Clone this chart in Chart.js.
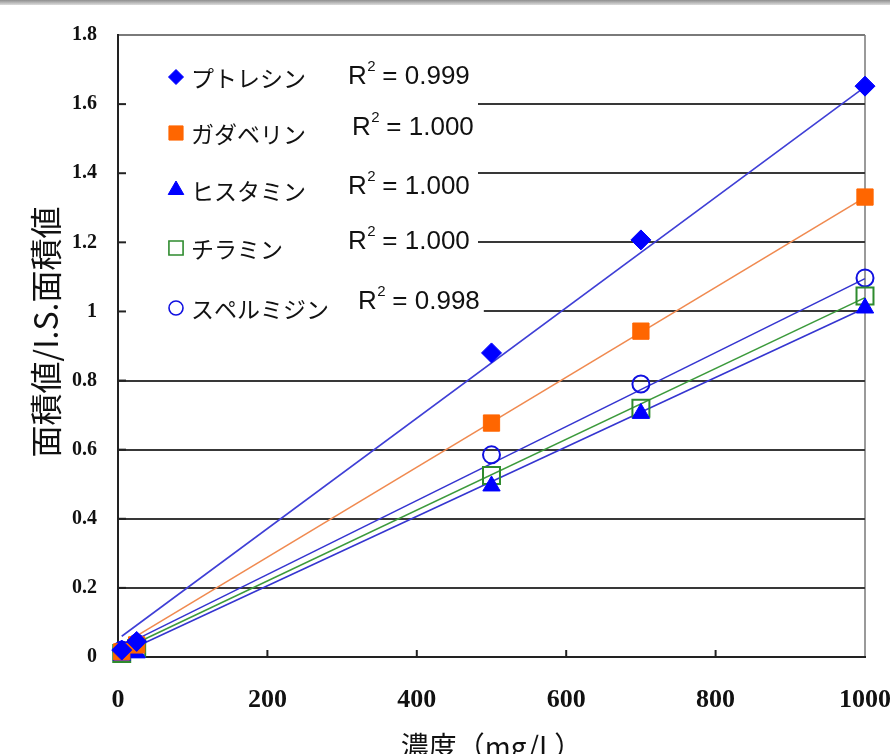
<!DOCTYPE html>
<html><head><meta charset="utf-8">
<script src="https://cdn.jsdelivr.net/npm/chart.js@4/dist/chart.umd.min.js"></script>
<style>
html,body{margin:0;padding:0;background:#fff;}
#wrap{position:relative;width:890px;height:754px;overflow:hidden;}
#bar{position:absolute;left:0;top:0;width:890px;height:5px;background:linear-gradient(#8f8f8f,#dcdcdc);}
canvas{position:absolute;left:0;top:0;}
</style></head><body>
<div id="wrap"><canvas id="c" width="890" height="754"></canvas><div id="bar"></div></div>
<script>
// ---- data ----
const concentrations = [5, 25, 500, 700, 1000];
const compounds = ['プトレシン', 'ガダベリン', 'ヒスタミン', 'チラミン', 'スペルミジン'];
const putrescine  = [0.02, 0.045, 0.88, 1.207, 1.652];
const cadaverine  = [0.015, 0.035, 0.677, 0.943, 1.331];
const histamine   = [0.005, 0.012, 0.495, 0.705, 1.01];
const tyramine    = [0.01, 0.025, 0.525, 0.72, 1.045];
const spermidine  = [0.02, 0.04, 0.585, 0.79, 1.097];
const trendX      = [5, 1000];
const trendStart  = [0.06, 0.035, 0.01, 0.02, 0.03];
const trendEnd    = [1.65, 1.33, 1.01, 1.04, 1.095];
const r2Values    = ['0.999', '1.000', '1.000', '1.000', '0.998'];
const xTickLabels = ['0', '200', '400', '600', '800', '1000'];
const yTickLabels = ['0', '0.2', '0.4', '0.6', '0.8', '1', '1.2', '1.4', '1.6', '1.8'];
const xTitle = '濃度（mg/L）';
const yTitle = '面積値/I.S.面積値';

const seriesValues = [putrescine, cadaverine, histamine, tyramine, spermidine];

// ---- styles ----
const markerStyle = [
  {pointStyle: 'rectRot', radius: 10, fill: '#0000FF', stroke: '#0000FF', bw: 1},
  {pointStyle: 'rect', radius: 11.5, fill: '#FF6600', stroke: '#FF6600', bw: 1},
  {pointStyle: 'triangle', radius: 10, fill: '#0000FF', stroke: '#0000FF', bw: 1},
  {pointStyle: 'rect', radius: 12, fill: 'rgba(255,255,255,0)', stroke: '#2E8B2E', bw: 2},
  {pointStyle: 'circle', radius: 8.5, fill: 'rgba(255,255,255,0)', stroke: '#1010E0', bw: 2}
];
const legendMarker = [
  {pointStyle: 'rectRot', radius: 7.5, fill: '#0000FF', stroke: '#0000FF', bw: 1},
  {pointStyle: 'rect', radius: 10, fill: '#FF6600', stroke: '#FF6600', bw: 1},
  {pointStyle: 'triangle', radius: 9, fill: '#0000FF', stroke: '#0000FF', bw: 1},
  {pointStyle: 'rect', radius: 10, fill: 'rgba(255,255,255,0)', stroke: '#2E8B2E', bw: 1.6},
  {pointStyle: 'circle', radius: 7, fill: 'rgba(255,255,255,0)', stroke: '#1010E0', bw: 1.6}
];
const lineColors = ['#3F3FD6', '#F08A50', '#3535D0', '#3C9A3C', '#3535D0'];

const datasets = [];
seriesValues.forEach((vals, i) => {
  const m = markerStyle[i];
  datasets.push({
    type: 'scatter', label: compounds[i],
    data: concentrations.map((x, k) => ({x: x, y: vals[k]})),
    pointStyle: m.pointStyle, pointRadius: m.radius, pointHoverRadius: m.radius,
    backgroundColor: m.fill, borderColor: m.stroke, pointBorderWidth: m.bw,
    showLine: false, clip: false
  });
});
seriesValues.forEach((vals, i) => {
  datasets.push({
    type: 'line', label: compounds[i] + ' trend',
    data: trendX.map((x, k) => ({x: x, y: k === 0 ? trendStart[i] : trendEnd[i]})),
    borderColor: lineColors[i], borderWidth: 1.6, pointRadius: 0, fill: false,
    tension: 0, clip: false
  });
});

const legendRowsY = [77, 133, 190, 248, 308];
const r2X = [348, 352, 348, 348, 358];
const r2Y = [77, 128, 187, 242, 302];

const overlayPlugin = {
  id: 'overlay',
  beforeDatasetsDraw(chart) {
    const ctx = chart.ctx;
    const a = chart.chartArea;
    const xs = chart.scales.x, ys = chart.scales.y;
    ctx.save();
    // legend box (white, hides grid lines)
    ctx.fillStyle = '#fff';
    ctx.fillRect(a.left + 1, 45, 478 - a.left - 1, 322 - 45);
    // inner tick marks
    ctx.strokeStyle = '#222';
    ctx.lineWidth = 2;
    for (let v = 1; v < yTickLabels.length - 1; v++) {
      const y = ys.getPixelForValue(parseFloat(yTickLabels[v]));
      ctx.beginPath(); ctx.moveTo(a.left, y); ctx.lineTo(a.left + 8, y); ctx.stroke();
    }
    for (let k = 1; k < xTickLabels.length - 1; k++) {
      const x = xs.getPixelForValue(parseFloat(xTickLabels[k]));
      ctx.beginPath(); ctx.moveTo(x, a.bottom); ctx.lineTo(x, a.bottom - 7); ctx.stroke();
    }
    // legend entries
    compounds.forEach((name, i) => {
      const m = legendMarker[i];
      ctx.fillStyle = m.fill; ctx.strokeStyle = m.stroke; ctx.lineWidth = m.bw;
      Chart.helpers.drawPoint(ctx, {pointStyle: m.pointStyle, radius: m.radius, rotation: 0, borderWidth: m.bw}, 176, legendRowsY[i]);
      ctx.fillStyle = '#111';
      ctx.font = '23px "Noto Sans CJK JP"';
      ctx.textBaseline = 'middle';
      ctx.textAlign = 'left';
      ctx.fillText(name, 191, legendRowsY[i] + 1);
    });
    // R^2 labels
    r2Values.forEach((val, i) => {
      const x0 = r2X[i], y0 = r2Y[i];
      ctx.font = '26px "Liberation Sans"';
      const wR = ctx.measureText('R').width;
      ctx.font = '15px "Liberation Sans"';
      const w2 = ctx.measureText('2').width;
      ctx.font = '26px "Liberation Sans"';
      const rest = ' = ' + val;
      const wRest = ctx.measureText(rest).width;
      ctx.fillStyle = '#fff';
      ctx.fillRect(x0 - 2, y0 - 14, wR + w2 + wRest + 6, 28);
      ctx.fillStyle = '#111';
      ctx.textBaseline = 'middle';
      ctx.fillText('R', x0, y0);
      ctx.font = '15px "Liberation Sans"';
      ctx.fillText('2', x0 + wR + 0.5, y0 - 10);
      ctx.font = '26px "Liberation Sans"';
      ctx.fillText(rest, x0 + wR + w2, y0);
    });
    // y-axis title
    ctx.translate(46, 332);
    ctx.rotate(-Math.PI / 2);
    ctx.fillStyle = '#111';
    ctx.font = '32px "Noto Sans CJK JP"';
    ctx.textAlign = 'center';
    ctx.textBaseline = 'middle';
    ctx.fillText(yTitle, 0, 0);
    ctx.restore();
  }
};

new Chart(document.getElementById('c'), {
  data: {datasets: datasets},
  options: {
    responsive: false, animation: false, devicePixelRatio: 1,
    layout: {padding: {left: 0, top: 35, right: 25, bottom: 0}},
    plugins: {legend: {display: false}, tooltip: {enabled: false}},
    scales: {
      x: {
        type: 'linear', position: 'bottom', min: 0, max: 1000,
        afterBuildTicks(scale) { scale.ticks = xTickLabels.map(t => ({value: parseFloat(t)})); },
        ticks: {
          callback(v) { const i = xTickLabels.map(parseFloat).indexOf(v); return i >= 0 ? xTickLabels[i] : ''; },
          font: {family: '"Liberation Serif"', size: 26, weight: 'bold'}, color: '#111', padding: 28, maxRotation: 0
        },
        grid: {
          drawTicks: false, lineWidth: 2,
          color(c) { return c.tick && c.tick.value === 1000 ? '#9a9a9a' : 'rgba(0,0,0,0)'; }
        },
        border: {color: '#222', width: 2},
        title: {display: true, text: xTitle, color: '#111',
          font: {family: '"Noto Sans CJK JP"', size: 28}, padding: {top: 0, bottom: -9}},
        afterFit(scale) { scale.height = 97; scale.paddingLeft = 0; scale.paddingRight = 0; }
      },
      y: {
        type: 'linear', position: 'left', min: 0, max: 1.8,
        afterBuildTicks(scale) { scale.ticks = yTickLabels.map(t => ({value: parseFloat(t)})); },
        ticks: {
          callback(v) { const i = yTickLabels.findIndex(t => Math.abs(parseFloat(t) - v) < 1e-6); return i >= 0 ? yTickLabels[i] : ''; },
          font: {family: '"Liberation Serif"', size: 20, weight: 'bold'}, color: '#111', padding: 21
        },
        grid: {
          drawTicks: false, lineWidth: 2,
          color(c) { return c.tick && c.tick.value > 1.79 ? '#7a7a7a' : '#383838'; }
        },
        border: {color: '#222', width: 2},
        title: {display: false},
        afterFit(scale) { scale.width = 118; scale.paddingTop = 0; scale.paddingBottom = 0; }
      }
    }
  },
  plugins: [overlayPlugin]
});
</script>
</body></html>
